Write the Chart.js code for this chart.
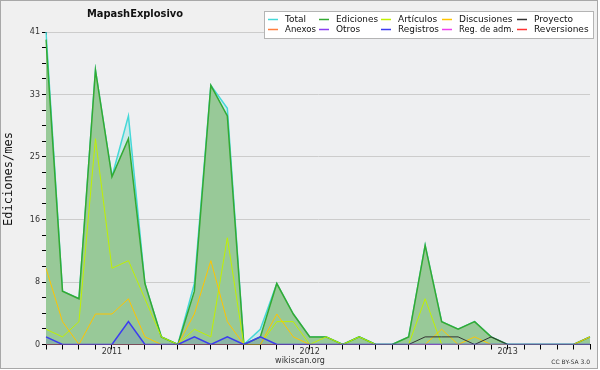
<!DOCTYPE html>
<html>
<head>
<meta charset="utf-8">
<script src="https://cdn.jsdelivr.net/npm/chart.js@4.4.1/dist/chart.umd.min.js"></script>
<style>
  html, body { margin: 0; padding: 0; background: #fff; }
</style>
</head>
<body>
<canvas id="chart" width="600" height="370"></canvas>
<script>
// meses: sep 2010 .. jun 2013
const months = [
  "2010-09", "2010-10", "2010-11", "2010-12",
  "2011-01", "2011-02", "2011-03", "2011-04", "2011-05", "2011-06",
  "2011-07", "2011-08", "2011-09", "2011-10", "2011-11", "2011-12",
  "2012-01", "2012-02", "2012-03", "2012-04", "2012-05", "2012-06",
  "2012-07", "2012-08", "2012-09", "2012-10", "2012-11", "2012-12",
  "2013-01", "2013-02", "2013-03", "2013-04", "2013-05", "2013-06",
];
const yTickLabels = ["0", "8", "16", "25", "33", "41"];

const total =       [41, 7, 6, 36, 22, 30, 8, 1, 0, 8, 34, 31, 0, 2, 8, 4, 1, 1, 0, 1, 0, 0, 1, 13, 3, 2, 3, 1, 0, 0, 0, 0, 0, 1];
const ediciones =   [40, 7, 6, 36, 22, 27, 8, 1, 0, 7, 34, 30, 0, 1, 8, 4, 1, 1, 0, 1, 0, 0, 1, 13, 3, 2, 3, 1, 0, 0, 0, 0, 0, 1];
const articulos =   [2, 1, 3, 27, 10, 11, 6, 1, 0, 2, 1, 14, 0, 0, 3, 3, 0, 1, 0, 1, 0, 0, 0, 6, 0, 0, 0, 0, 0, 0, 0, 0, 0, 0];
const discusiones = [10, 3, 0, 4, 4, 6, 1, 0, 0, 4, 11, 3, 0, 0, 4, 1, 0, 0, 0, 0, 0, 0, 0, 0, 2, 0, 1, 0, 0, 0, 0, 0, 0, 1];
const proyecto =    [0, 0, 0, 0, 0, 0, 0, 0, 0, 0, 0, 0, 0, 0, 0, 0, 0, 0, 0, 0, 0, 0, 0, 1, 1, 1, 0, 1, 0, 0, 0, 0, 0, 0];
const anexos =      [0, 0, 0, 0, 0, 0, 0, 0, 0, 0, 0, 0, 0, 0, 0, 0, 0, 0, 0, 0, 0, 0, 0, 0, 0, 0, 0, 0, 0, 0, 0, 0, 0, 0];
const otros =       [0, 0, 0, 0, 0, 0, 0, 0, 0, 0, 0, 0, 0, 0, 0, 0, 0, 0, 0, 0, 0, 0, 0, 0, 0, 0, 0, 0, 0, 0, 0, 0, 0, 0];
const registros =   [1, 0, 0, 0, 0, 3, 0, 0, 0, 1, 0, 1, 0, 1, 0, 0, 0, 0, 0, 0, 0, 0, 0, 0, 0, 0, 0, 0, 0, 0, 0, 0, 0, 0];
const regAdm =      [0, 0, 0, 0, 0, 0, 0, 0, 0, 0, 0, 0, 0, 0, 0, 0, 0, 0, 0, 0, 0, 0, 0, 0, 0, 0, 0, 0, 0, 0, 0, 0, 0, 0];
const reversiones = [0, 0, 0, 0, 0, 0, 0, 0, 0, 0, 0, 0, 0, 0, 0, 0, 0, 0, 0, 0, 0, 0, 0, 0, 0, 0, 0, 0, 0, 0, 0, 0, 0, 0];

const FONT = '"DejaVu Sans", sans-serif';

function serie(label, data, color, order, extra) {
  return Object.assign({
    label, data, order,
    borderColor: color,
    backgroundColor: color,
    borderWidth: 1,
    pointRadius: 0,
    tension: 0,
    fill: false,
  }, extra || {});
}

// fondo, marco y textos fijos (titulo, leyenda, creditos)
const decor = {
  id: "decor",
  beforeDraw(chart) {
    const { ctx, chartArea: a } = chart;
    ctx.save();
    ctx.fillStyle = "#ffffff";
    ctx.fillRect(0, 0, 600, 370);
    ctx.fillStyle = "#f0f0f0";
    ctx.fillRect(0, 0, 598, 369);
    ctx.strokeStyle = "#a8a8a8";
    ctx.lineWidth = 1;
    ctx.strokeRect(0.5, 0.5, 597, 368);
    ctx.fillStyle = "#eeeff1";
    ctx.fillRect(a.left, a.top, a.right - a.left, a.bottom - a.top);
    ctx.restore();
  },
  afterDraw(chart) {
    const ctx = chart.ctx;
    ctx.save();
    // titulo
    ctx.fillStyle = "#111";
    ctx.font = 'bold 11px "DejaVu Sans Condensed", "DejaVu Sans", sans-serif';
    ctx.textAlign = "center";
    ctx.textBaseline = "middle";
    ctx.fillText("MapashExplosivo", 135, 14);

    // titulo eje y
    ctx.save();
    ctx.translate(9, 179);
    ctx.rotate(-Math.PI / 2);
    ctx.font = '12px "DejaVu Sans Mono", monospace';
    ctx.fillText("Ediciones/mes", 0, 0);
    ctx.restore();

    // leyenda (5 columnas x 2 filas)
    ctx.fillStyle = "#ffffff";
    ctx.fillRect(264.5, 11.5, 329, 27);
    ctx.strokeStyle = "#b4b4b4";
    ctx.lineWidth = 1;
    ctx.strokeRect(264.5, 11.5, 329, 27);
    const colX = [268, 319, 381, 442, 517, 596];
    ctx.font = "9px " + FONT;
    ctx.textAlign = "left";
    chart.data.datasets.forEach((ds, i) => {
      const col = i % 5;
      const x = colX[col];
      const y = 19.5 + Math.floor(i / 5) * 10;
      ctx.strokeStyle = ds.borderColor;
      ctx.lineWidth = 1.5;
      ctx.beginPath();
      ctx.moveTo(x, y);
      ctx.lineTo(x + 10, y);
      ctx.stroke();
      ctx.fillStyle = "#111";
      ctx.fillText(ds.label, x + 17, y, colX[col + 1] - x - 20);
    });

    // creditos
    ctx.fillStyle = "#333";
    ctx.textAlign = "center";
    ctx.font = "8px " + FONT;
    ctx.fillText("wikiscan.org", 300, 361);
    ctx.textAlign = "right";
    ctx.font = "6px " + FONT;
    ctx.fillText("CC BY-SA 3.0", 590, 362);
    ctx.restore();
  },
};

new Chart(document.getElementById("chart"), {
  type: "line",
  data: {
    labels: months,
    datasets: [
      serie("Total", total, "#45d8d8", 5, { borderWidth: 1.5, fill: "origin", backgroundColor: "rgba(64,208,208,0.2)" }),
      serie("Ediciones", ediciones, "#33aa33", 4, { borderWidth: 1.5, fill: "origin", backgroundColor: "#98c998" }),
      serie("Artículos", articulos, "#c0f000", 3),
      serie("Discusiones", discusiones, "#ffc400", 2),
      serie("Proyecto", proyecto, "#333333", 1),
      serie("Anexos", anexos, "#ff7f3f", 6),
      serie("Otros", otros, "#8a3ff0", 6),
      serie("Registros", registros, "#3c3cf0", 0, { borderWidth: 1.5, fill: "origin", backgroundColor: "rgba(60,60,240,0.15)" }),
      serie("Reg. de adm.", regAdm, "#ee40ee", 6),
      serie("Reversiones", reversiones, "#ff3333", 6),
    ],
  },
  options: {
    responsive: false,
    animation: false,
    layout: { padding: { left: 0, right: 10, top: 32, bottom: 0 } },
    plugins: {
      legend: { display: false },
      title: { display: false },
      tooltip: { enabled: false },
    },
    scales: {
      x: {
        z: 1,
        afterFit: (scale) => { scale.height = 25.5; },
        grid: { drawOnChartArea: false, drawTicks: true, tickLength: 5, tickColor: "#000" },
        border: { color: "#000", width: 1 },
        ticks: {
          autoSkip: false,
          maxRotation: 0,
          padding: -2,
          color: "#333",
          font: { family: FONT, size: 8 },
          callback: (v, i) => (months[i].endsWith("-01") ? months[i].slice(0, 4) : ""),
        },
      },
      y: {
        z: 1,
        min: 0,
        max: 41,
        afterFit: (scale) => { scale.width = 46; },
        // 20 divisiones menores, rejilla cada 4
        afterBuildTicks: (scale) => {
          scale.ticks = Array.from({ length: 21 }, (_, i) => ({ value: (i * 41) / 20 }));
        },
        grid: {
          color: (c) => (c.index % 4 === 0 && c.index > 0 ? "#cccccc" : "rgba(0,0,0,0)"),
          tickColor: "#000",
          tickLength: 4,
        },
        border: { color: "#000", width: 1 },
        ticks: {
          autoSkip: false,
          padding: 2,
          color: "#333",
          font: { family: FONT, size: 8 },
          callback: (v, i) => (i % 4 === 0 ? yTickLabels[i / 4] : ""),
        },
      },
    },
  },
  plugins: [decor],
});
</script>
</body>
</html>
